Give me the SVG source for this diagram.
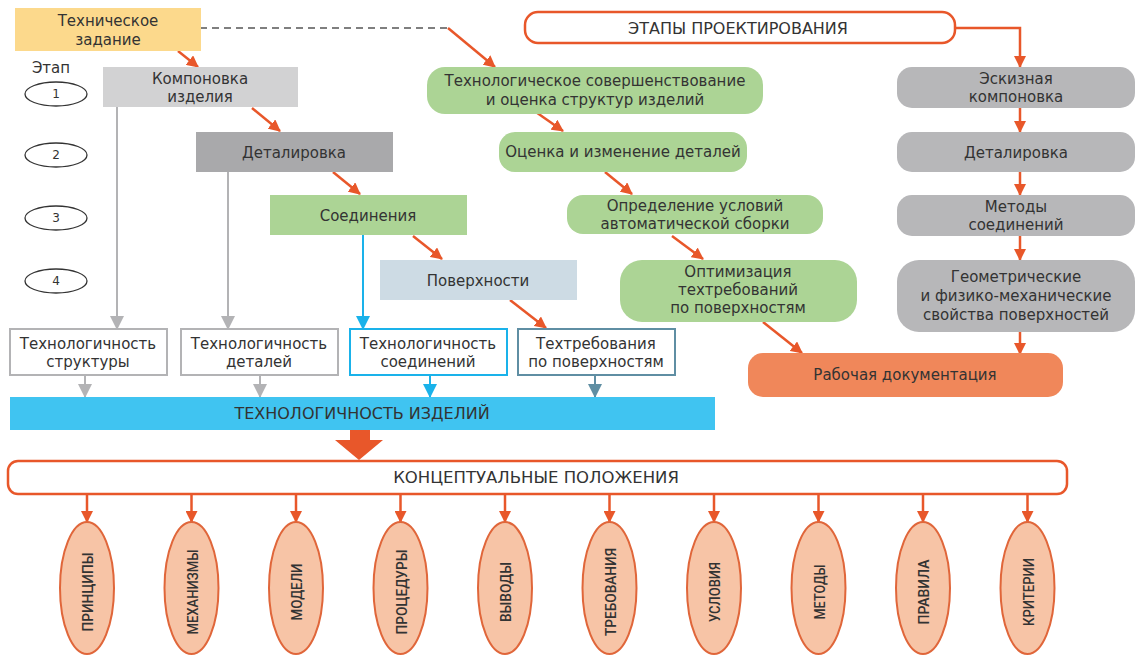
<svg xmlns="http://www.w3.org/2000/svg" width="1136" height="657" viewBox="0 0 1136 657">
<defs>
<style>
text{font-family:"DejaVu Sans","Open Sans",sans-serif;fill:#333;font-size:15px;text-anchor:middle}
.cap{font-size:16px}
.cap2{font-size:16.5px}
.num{font-size:12px}
.lab{font-family:Roboto,"Open Sans",sans-serif;font-size:15px;font-weight:500}
.o{stroke:#e8572a;stroke-width:2.5;fill:none}
.g{stroke:#b3b3b5;stroke-width:2;fill:none}
.b{stroke:#1ab2ea;stroke-width:2;fill:none}
.s{stroke:#5f8ea3;stroke-width:2;fill:none}
.green{fill:#acd495}
.gray{fill:#b7b7b9}
.wbox{fill:#fff;stroke-width:2}
.ell{fill:#f7c4a6;stroke:#e0663a;stroke-width:2}
.stg{fill:#fff;stroke:#333;stroke-width:1.3}
</style>
<marker id="mo" markerUnits="userSpaceOnUse" markerWidth="12" markerHeight="12" refX="11" refY="6" orient="auto"><path d="M0,0 L12,6 L0,12 z" fill="#e8572a"/></marker>
<marker id="mg" markerUnits="userSpaceOnUse" markerWidth="14" markerHeight="14" refX="13" refY="7" orient="auto"><path d="M0,0 L14,7 L0,14 z" fill="#b3b3b5"/></marker>
<marker id="mb" markerUnits="userSpaceOnUse" markerWidth="14" markerHeight="14" refX="13" refY="7" orient="auto"><path d="M0,0 L14,7 L0,14 z" fill="#1ab2ea"/></marker>
<marker id="ms" markerUnits="userSpaceOnUse" markerWidth="14" markerHeight="14" refX="13" refY="7" orient="auto"><path d="M0,0 L14,7 L0,14 z" fill="#5f8ea3"/></marker>
</defs>
<rect width="1136" height="657" fill="#fff"/>

<g id="connectors">
<path d="M200,28 H448" stroke="#555" stroke-width="1.3" stroke-dasharray="7 5" fill="none"/>
<path class="o" d="M448,28 L495,67" marker-end="url(#mo)"/>
<path class="o" d="M955,28 H1020 V67" marker-end="url(#mo)"/>
<path class="o" d="M178,51 L198,67" marker-end="url(#mo)"/>
<path class="o" d="M252,108 L280,131" marker-end="url(#mo)"/>
<path class="o" d="M333,172 L360,194" marker-end="url(#mo)"/>
<path class="o" d="M413,236 L442,259" marker-end="url(#mo)"/>
<path class="o" d="M510,300 L546,328" marker-end="url(#mo)"/>
<path class="o" d="M533,110 L563,131" marker-end="url(#mo)"/>
<path class="o" d="M605,172 L632,194" marker-end="url(#mo)"/>
<path class="o" d="M672,236 L703,259" marker-end="url(#mo)"/>
<path class="o" d="M763,322 L802,353" marker-end="url(#mo)"/>
<path class="o" d="M1020,108 V132" marker-end="url(#mo)"/>
<path class="o" d="M1020,172 V195" marker-end="url(#mo)"/>
<path class="o" d="M1020,236 V260" marker-end="url(#mo)"/>
<path class="o" d="M1020,332 V354" marker-end="url(#mo)"/>
<path class="g" d="M117,107 V329" marker-end="url(#mg)"/>
<path class="g" d="M228,172 V329" marker-end="url(#mg)"/>
<path class="b" d="M363,235 V329" marker-end="url(#mb)"/>
<path class="g" d="M85,375 V397" marker-end="url(#mg)"/>
<path class="g" d="M260,375 V397" marker-end="url(#mg)"/>
<path class="b" d="M430,375 V397" marker-end="url(#mb)"/>
<path class="s" d="M595,375 V397" marker-end="url(#ms)"/>
<polygon points="350,430 370,430 370,440 383,440 359,460 335,440 350,440" fill="#e8572a"/>
<path class="o" d="M87,494 V522" marker-end="url(#mo)"/>
<path class="o" d="M191.5,494 V522" marker-end="url(#mo)"/>
<path class="o" d="M296,494 V522" marker-end="url(#mo)"/>
<path class="o" d="M400.5,494 V522" marker-end="url(#mo)"/>
<path class="o" d="M505,494 V522" marker-end="url(#mo)"/>
<path class="o" d="M609.5,494 V522" marker-end="url(#mo)"/>
<path class="o" d="M714,494 V522" marker-end="url(#mo)"/>
<path class="o" d="M818.5,494 V522" marker-end="url(#mo)"/>
<path class="o" d="M923,494 V522" marker-end="url(#mo)"/>
<path class="o" d="M1027.5,494 V522" marker-end="url(#mo)"/>
</g>

<g id="tz"><rect x="15" y="8" width="186" height="43" fill="#fcd98c"/><text x="108" y="26">Техническое</text><text x="108" y="45">задание</text></g>
<g id="etapy"><rect x="525" y="12" width="430" height="31" rx="13" fill="#fff" stroke="#e8572a" stroke-width="2.5"/><text class="cap" x="738" y="34">ЭТАПЫ ПРОЕКТИРОВАНИЯ</text></g>

<g id="stages">
<text x="51" y="73" font-size="15">Этап</text>
<ellipse class="stg" cx="56" cy="94" rx="31" ry="12"/><text class="num" x="56" y="98">1</text>
<ellipse class="stg" cx="56" cy="155" rx="31" ry="12"/><text class="num" x="56" y="159">2</text>
<ellipse class="stg" cx="56" cy="218" rx="31" ry="12"/><text class="num" x="56" y="222">3</text>
<ellipse class="stg" cx="56" cy="281" rx="31" ry="12"/><text class="num" x="56" y="285">4</text>
</g>

<g id="komp"><rect x="103" y="67" width="195" height="40" fill="#d2d2d3"/><text x="200" y="84">Компоновка</text><text x="200" y="102">изделия</text></g>
<g id="detal"><rect x="196" y="132" width="197" height="40" fill="#a9a9ab"/><text x="294" y="158">Деталировка</text></g>
<g id="soed"><rect x="270" y="195" width="197" height="40" fill="#acd495"/><text x="368" y="221">Соединения</text></g>
<g id="pov"><rect x="380" y="260" width="197" height="40" fill="#cddbe4"/><text x="478" y="286">Поверхности</text></g>

<g id="tech-str"><rect class="wbox" x="10" y="329" width="157" height="46" stroke="#b3b3b5"/><text x="88" y="349">Технологичность</text><text x="88" y="367">структуры</text></g>
<g id="tech-det"><rect class="wbox" x="181" y="329" width="157" height="46" stroke="#b3b3b5"/><text x="259" y="349">Технологичность</text><text x="259" y="367">деталей</text></g>
<g id="tech-soed"><rect class="wbox" x="350" y="329" width="157" height="46" stroke="#1ab2ea"/><text x="428" y="349">Технологичность</text><text x="428" y="367">соединений</text></g>
<g id="techtreb"><rect class="wbox" x="518" y="329" width="157" height="46" stroke="#5f8ea3"/><text x="596" y="349">Техтребования</text><text x="596" y="367">по поверхностям</text></g>

<g id="tech-izd"><rect x="10" y="397" width="705" height="33" fill="#40c4f1"/><text class="cap" x="362" y="419">ТЕХНОЛОГИЧНОСТЬ ИЗДЕЛИЙ</text></g>

<g id="g1"><rect class="green" x="427" y="67" width="336" height="47" rx="18"/><text x="595" y="86">Технологическое совершенствование</text><text x="595" y="105">и оценка структур изделий</text></g>
<g id="g2"><rect class="green" x="499" y="132" width="248" height="40" rx="16"/><text x="623" y="157">Оценка и изменение деталей</text></g>
<g id="g3"><rect class="green" x="567" y="195" width="256" height="39" rx="16"/><text x="695" y="211">Определение условий</text><text x="695" y="229">автоматической сборки</text></g>
<g id="g4"><rect class="green" x="620" y="260" width="237" height="62" rx="22"/><text x="738" y="277">Оптимизация</text><text x="738" y="295">техтребований</text><text x="738" y="313">по поверхностям</text></g>

<g id="r1"><rect class="gray" x="897" y="67" width="238" height="41" rx="15"/><text x="1016" y="84">Эскизная</text><text x="1016" y="102">компоновка</text></g>
<g id="r2"><rect class="gray" x="897" y="132" width="238" height="40" rx="15"/><text x="1016" y="158">Деталировка</text></g>
<g id="r3"><rect class="gray" x="897" y="195" width="238" height="41" rx="15"/><text x="1016" y="212">Методы</text><text x="1016" y="230">соединений</text></g>
<g id="r4"><rect class="gray" x="897" y="260" width="238" height="72" rx="22"/><text x="1016" y="282">Геометрические</text><text x="1016" y="301">и физико-механические</text><text x="1016" y="320">свойства поверхностей</text></g>
<g id="rabdoc"><rect x="748" y="353" width="315" height="44" rx="15" fill="#f0875a"/><text x="905" y="380">Рабочая документация</text></g>

<g id="konc"><rect x="8" y="461" width="1059" height="33" rx="10" fill="#fff" stroke="#e8572a" stroke-width="2.5"/><text class="cap2" x="536" y="483">КОНЦЕПТУАЛЬНЫЕ ПОЛОЖЕНИЯ</text></g>

<g id="e1"><ellipse class="ell" cx="87" cy="588" rx="27" ry="66"/><text class="lab" transform="translate(93,592) rotate(-90)" textLength="79" lengthAdjust="spacingAndGlyphs">ПРИНЦИПЫ</text></g>
<g id="e2"><ellipse class="ell" cx="191.5" cy="588" rx="27" ry="66"/><text class="lab" transform="translate(197.5,592) rotate(-90)" textLength="85" lengthAdjust="spacingAndGlyphs">МЕХАНИЗМЫ</text></g>
<g id="e3"><ellipse class="ell" cx="296" cy="588" rx="27" ry="66"/><text class="lab" transform="translate(302,592) rotate(-90)" textLength="57" lengthAdjust="spacingAndGlyphs">МОДЕЛИ</text></g>
<g id="e4"><ellipse class="ell" cx="400.5" cy="588" rx="27" ry="66"/><text class="lab" transform="translate(406.5,592) rotate(-90)" textLength="85" lengthAdjust="spacingAndGlyphs">ПРОЦЕДУРЫ</text></g>
<g id="e5"><ellipse class="ell" cx="505" cy="588" rx="27" ry="66"/><text class="lab" transform="translate(511,592) rotate(-90)" textLength="60" lengthAdjust="spacingAndGlyphs">ВЫВОДЫ</text></g>
<g id="e6"><ellipse class="ell" cx="609.5" cy="588" rx="27" ry="66"/><text class="lab" transform="translate(615.5,592) rotate(-90)" textLength="88" lengthAdjust="spacingAndGlyphs">ТРЕБОВАНИЯ</text></g>
<g id="e7"><ellipse class="ell" cx="714" cy="588" rx="27" ry="66"/><text class="lab" transform="translate(720,592) rotate(-90)" textLength="60" lengthAdjust="spacingAndGlyphs">УСЛОВИЯ</text></g>
<g id="e8"><ellipse class="ell" cx="818.5" cy="588" rx="27" ry="66"/><text class="lab" transform="translate(824.5,592) rotate(-90)" textLength="55" lengthAdjust="spacingAndGlyphs">МЕТОДЫ</text></g>
<g id="e9"><ellipse class="ell" cx="923" cy="588" rx="27" ry="66"/><text class="lab" transform="translate(929,592) rotate(-90)" textLength="65" lengthAdjust="spacingAndGlyphs">ПРАВИЛА</text></g>
<g id="e10"><ellipse class="ell" cx="1027.5" cy="588" rx="27" ry="66"/><text class="lab" transform="translate(1033.5,592) rotate(-90)" textLength="68" lengthAdjust="spacingAndGlyphs">КРИТЕРИИ</text></g>
</svg>
